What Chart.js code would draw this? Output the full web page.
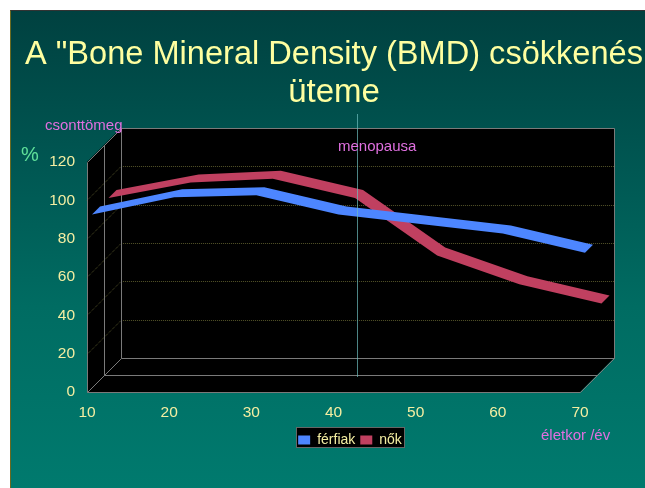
<!DOCTYPE html>
<html>
<head>
<meta charset="utf-8">
<title>BMD</title>
<script src="https://cdn.jsdelivr.net/npm/chart.js@4"></script>
<style>
  html, body { margin: 0; padding: 0; background: #fff; overflow: hidden; }
  #slide {
    position: absolute; left: 10px; top: 10px; width: 635px; height: 478px;
    box-sizing: border-box;
    border-left: 1px solid #6a6a20; border-top: 1px solid #333;
    background: linear-gradient(to bottom, #004140 0%, #005450 28%, #006c62 62%, #007a6e 100%);
  }
  #wrap { position: absolute; left: 0; top: 0; width: 645px; height: 488px; }
</style>
</head>
<body>
<div id="slide"></div>
<div id="wrap"><canvas id="bmdChart" width="645" height="488"></canvas></div>
<script>
const ages = [10, 20, 30, 40, 50, 60, 70];
const menValues = [90, 99, 100, 90, 85, 80, 70];
const womenValues = [90, 98, 100, 90, 60, 45, 35];
const yTicks = [0, 20, 40, 60, 80, 100, 120];
const menopauseAge = 43;

const titleLines = ['A "Bone Mineral Density (BMD) csökkenés', 'üteme'];
const seriesNames = ['férfiak', 'nők'];

const FONT = '"Liberation Sans", Arial, sans-serif';
const TEXT_COLOR = '#f4eea2';
const PINK = '#e070e0';
const GREEN = '#5fe09a';
const DEPTH = 34;
// how far into the depth each ribbon starts and ends
const ribbons = [
  { dataset: 1, color: '#c04060', near: 21.5, far: 29.5 },
  { dataset: 0, color: '#4d86ff', near: 5, far: 13 }
];

function toPoints(values) {
  return ages.map((age, i) => ({ x: age, y: values[i] }));
}

function drawBox(chart) {
  const { ctx, chartArea: a, scales: { y } } = chart;
  ctx.save();
  ctx.fillStyle = '#000';
  ctx.beginPath();
  ctx.moveTo(a.left, a.bottom);
  ctx.lineTo(a.left, a.top);
  ctx.lineTo(a.left + DEPTH, a.top - DEPTH);
  ctx.lineTo(a.right + DEPTH, a.top - DEPTH);
  ctx.lineTo(a.right + DEPTH, a.bottom - DEPTH);
  ctx.lineTo(a.right, a.bottom);
  ctx.closePath();
  ctx.fill();

  // dotted grid on the side and back walls
  ctx.strokeStyle = '#55552a';
  ctx.lineWidth = 1;
  ctx.setLineDash([1, 1]);
  yTicks.slice(1, -1).forEach(v => {
    const py = Math.round(y.getPixelForValue(v)) + 0.5;
    ctx.beginPath();
    ctx.moveTo(a.left, py);
    ctx.lineTo(a.left + DEPTH, py - DEPTH);
    ctx.lineTo(a.right + DEPTH, py - DEPTH);
    ctx.stroke();
  });
  ctx.setLineDash([]);

  ctx.strokeStyle = '#7a7a7a';
  const mid = DEPTH / 2;
  const segs = [
    [a.left, a.top, a.left, a.bottom],
    [a.left, a.bottom, a.right, a.bottom],
    [a.left, a.bottom, a.left + DEPTH, a.bottom - DEPTH],
    [a.right, a.bottom, a.right + DEPTH, a.bottom - DEPTH],
    [a.left, a.top, a.left + DEPTH, a.top - DEPTH],
    [a.left + DEPTH, a.top - DEPTH, a.right + DEPTH, a.top - DEPTH],
    [a.right + DEPTH, a.top - DEPTH, a.right + DEPTH, a.bottom - DEPTH],
    [a.left + DEPTH, a.top - DEPTH, a.left + DEPTH, a.bottom - DEPTH],
    [a.left + DEPTH, a.bottom - DEPTH, a.right + DEPTH, a.bottom - DEPTH],
    [a.left + mid, a.top - mid, a.left + mid, a.bottom - mid],
    [a.left + mid, a.bottom - mid, a.right + mid, a.bottom - mid]
  ];
  segs.forEach(s => {
    ctx.beginPath();
    ctx.moveTo(Math.round(s[0]) + 0.5, Math.round(s[1]) + 0.5);
    ctx.lineTo(Math.round(s[2]) + 0.5, Math.round(s[3]) + 0.5);
    ctx.stroke();
  });
  ctx.restore();
}

function drawLegendBox(chart) {
  const { ctx } = chart;
  ctx.save();
  ctx.fillStyle = '#000';
  ctx.strokeStyle = '#666';
  ctx.fillRect(296, 427, 109, 21);
  ctx.strokeRect(296.5, 427.5, 108, 20);
  ctx.restore();
}

const slidePlugin = {
  id: 'slide3d',
  afterLayout(chart) {
    // title is wider than the plot, let it use the whole slide
    chart.titleBlock.left = 25;
    chart.titleBlock.right = 643;
    // legend sits right of centre on the slide
    chart.legend.left += 60;
    chart.legend.right += 60;
  },
  beforeDraw(chart) {
    // move the legend entries down into their box
    const boxes = chart.legend.legendHitBoxes;
    const dy = 431 - boxes[0].top;
    boxes.forEach(b => { b.top += dy; });
    drawBox(chart);
    drawLegendBox(chart);
  },
  afterDatasetsDraw(chart) {
    const { ctx, scales: { x } } = chart;
    ribbons.forEach(r => {
      const pts = chart.getDatasetMeta(r.dataset).data;
      ctx.save();
      ctx.fillStyle = r.color;
      ctx.beginPath();
      pts.forEach((p, i) => {
        const fn = i ? 'lineTo' : 'moveTo';
        ctx[fn](p.x + r.near, p.y - r.near);
      });
      pts.slice().reverse().forEach(p => ctx.lineTo(p.x + r.far, p.y - r.far));
      ctx.closePath();
      ctx.fill();
      ctx.restore();
    });

    const mx = Math.round(x.getPixelForValue(menopauseAge)) - 0.5;
    ctx.save();
    ctx.strokeStyle = 'rgba(110,190,190,0.7)';
    ctx.beginPath();
    ctx.moveTo(mx, 114);
    ctx.lineTo(mx, 377);
    ctx.stroke();

    ctx.textBaseline = 'alphabetic';
    ctx.font = '15px ' + FONT;
    ctx.fillStyle = PINK;
    ctx.fillText('csonttömeg', 45, 130);
    ctx.fillText('menopausa', 338, 151);
    ctx.fillText('életkor /év', 541, 440);
    ctx.font = '20px ' + FONT;
    ctx.fillStyle = GREEN;
    ctx.fillText('%', 21, 161);
    ctx.restore();
  }
};

const ctx = document.getElementById('bmdChart').getContext('2d');
new Chart(ctx, {
  type: 'line',
  data: {
    datasets: [
      { label: seriesNames[0], data: toPoints(menValues), backgroundColor: '#4d86ff', borderColor: '#4d86ff', borderWidth: 0, pointRadius: 0, showLine: false },
      { label: seriesNames[1], data: toPoints(womenValues), backgroundColor: '#c04060', borderColor: '#c04060', borderWidth: 0, pointRadius: 0, showLine: false }
    ]
  },
  options: {
    responsive: false,
    animation: false,
    layout: { padding: { left: 0, right: 65, top: 0, bottom: 31 } },
    scales: {
      x: {
        type: 'linear',
        min: 10,
        max: 70,
        grid: { display: false },
        border: { display: false },
        ticks: { stepSize: 10, padding: 3, maxRotation: 0, color: TEXT_COLOR, font: { family: FONT, size: 15.5 } },
        afterFit: scale => { scale.height = 36; }
      },
      y: {
        min: 0,
        max: 120,
        grid: { display: false },
        border: { display: false },
        ticks: { stepSize: 20, padding: 4, color: TEXT_COLOR, font: { family: FONT, size: 15.5 } },
        afterFit: scale => { scale.width = 87; }
      }
    },
    plugins: {
      title: {
        display: true,
        text: titleLines,
        color: '#ffffa0',
        font: { family: FONT, size: 33, weight: 'normal', lineHeight: 1.15 },
        padding: { top: 36, bottom: 50 }
      },
      legend: {
        position: 'bottom',
        labels: { boxWidth: 12, boxHeight: 9, padding: 5, color: TEXT_COLOR, font: { family: FONT, size: 14 } }
      },
      tooltip: { enabled: false }
    }
  },
  plugins: [slidePlugin]
});
</script>
</body>
</html>
